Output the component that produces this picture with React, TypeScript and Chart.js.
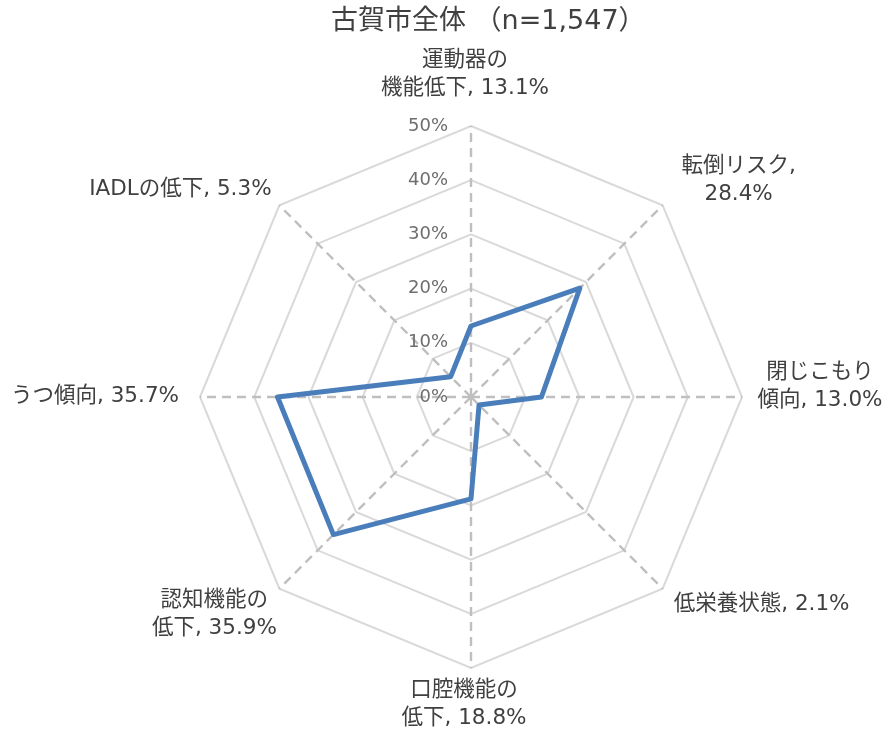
import React, { useEffect, useRef } from "react";
import { Chart, registerables } from "chart.js";

Chart.register(...registerables);

const titleText = "古賀市全体 （n=1,547）";
const categories = [
  "運動器の機能低下",
  "転倒リスク",
  "閉じこもり傾向",
  "低栄養状態",
  "口腔機能の低下",
  "認知機能の低下",
  "うつ傾向",
  "IADLの低下",
];
const values = [13.1, 28.4, 13.0, 2.1, 18.8, 35.9, 35.7, 5.3];
const tickValues = [0, 10, 20, 30, 40, 50];
const tickLabels = ["0%", "10%", "20%", "30%", "40%", "50%"];
// where each data label wraps (character index), -1 = single line
const labelBreaks = [4, 6, 5, -1, 5, 5, -1, -1];
// label block centre offset from the outer vertex of its spoke
const labelOffsets: [number, number][] = [
  [-6, -52],
  [76, -25],
  [78, -11],
  [99, 16],
  [-7, 36],
  [-65, 26],
  [-105, -1],
  [-99, -16],
];

const FONT = "'DejaVu Sans', 'Noto Sans CJK JP', sans-serif";
const TEXT = "#404040";

function labelLines(i: number): string[] {
  const full = `${categories[i]}, ${values[i].toFixed(1)}%`;
  const b = labelBreaks[i];
  if (b < 0) return [full];
  return [full.slice(0, b).trimEnd(), full.slice(b).trimStart()];
}

const textPlugin = {
  id: "textPlugin",
  beforeDatasetsDraw(chart: any) {
    const ctx = chart.ctx;
    const scale = chart.scales.r;
    ctx.save();
    ctx.font = `18px ${FONT}`;
    ctx.fillStyle = "#6e6e6e";
    ctx.textAlign = "right";
    ctx.textBaseline = "middle";
    tickValues.forEach((v, k) => {
      const d = scale.getDistanceFromCenterForValue(v);
      ctx.fillText(tickLabels[k], scale.xCenter - 23, scale.yCenter - d);
    });
    ctx.restore();
  },
  afterDraw(chart: any) {
    const ctx = chart.ctx;
    const scale = chart.scales.r;
    ctx.save();
    ctx.fillStyle = TEXT;
    ctx.textBaseline = "middle";
    ctx.font = `27px ${FONT}`;
    ctx.textAlign = "left";
    ctx.fillText(titleText, 331, 22);

    ctx.font = `21.5px ${FONT}`;
    ctx.textAlign = "center";
    const lh = 28;
    categories.forEach((_, i) => {
      const p = scale.getPointPosition(i, scale.drawingArea);
      const [dx, dy] = labelOffsets[i];
      const lines = labelLines(i);
      const cx = p.x + dx;
      const cy = p.y + dy;
      const y0 = cy - ((lines.length - 1) * lh) / 2;
      lines.forEach((ln, k) => ctx.fillText(ln, cx, y0 + k * lh));
    });
    ctx.restore();
  },
};

export default function App() {
  const ref = useRef<HTMLCanvasElement | null>(null);
  useEffect(() => {
    if (!ref.current) return;
    const chart = new Chart(ref.current, {
      type: "radar",
      data: {
        labels: categories,
        datasets: [
          {
            data: values,
            borderColor: "#4A7EBB",
            backgroundColor: "rgba(0,0,0,0)",
            borderWidth: 5,
            borderJoinStyle: "round",
            fill: false,
            pointRadius: 0,
            pointHoverRadius: 0,
            tension: 0,
          },
        ],
      },
      options: {
        animation: false,
        responsive: true,
        maintainAspectRatio: false,
        layout: { padding: { left: 200, right: 146, top: 126, bottom: 63 } },
        plugins: {
          legend: { display: false },
          tooltip: { enabled: false },
          title: { display: false },
        },
        scales: {
          r: {
            min: 0,
            max: 50,
            ticks: { display: false, stepSize: 10 },
            pointLabels: { display: false },
            grid: { color: "#d9d9d9", lineWidth: 2 },
            angleLines: {
              color: "#bfbfbf",
              lineWidth: 2.4,
              borderDash: [9, 6],
            },
          },
        },
      },
      plugins: [textPlugin],
    } as any);
    return () => chart.destroy();
  }, []);
  return (
    <div
      style={{
        position: "absolute",
        left: 0,
        top: 0,
        width: 888,
        height: 731,
        background: "#ffffff",
      }}
    >
      <canvas ref={ref} />
    </div>
  );
}
